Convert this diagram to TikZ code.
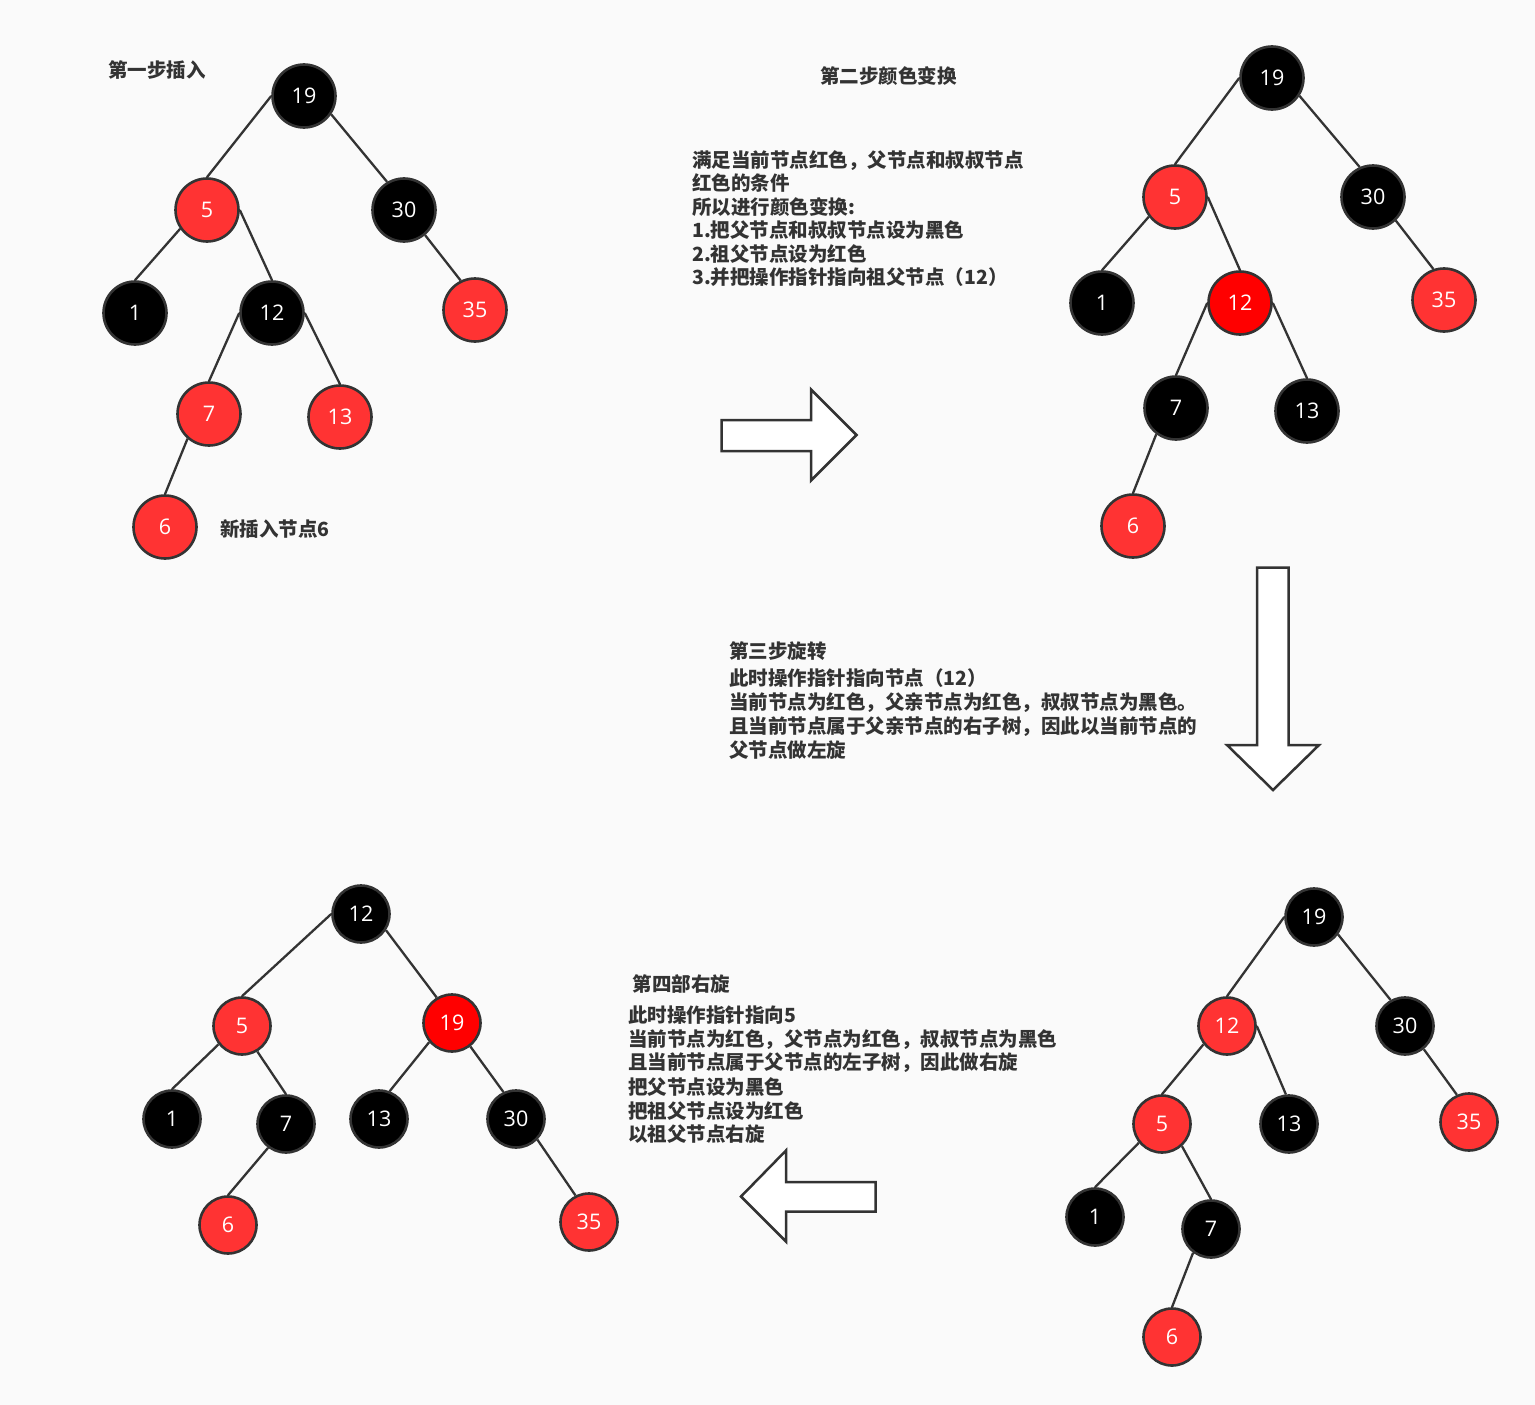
\documentclass[tikz,border=0pt]{standalone}
\usepackage{fontspec}
\setmainfont{Open Sans}
\newfontfamily\cjkf{Noto Sans CJK SC}
\newfontfamily\numf{Open Sans}
\definecolor{bgc}{RGB}{250,250,250}
\definecolor{strk}{RGB}{51,51,51}
\definecolor{txtc}{RGB}{51,51,51}
\definecolor{lred}{RGB}{255,51,51}
\definecolor{pred}{RGB}{255,0,0}
\tikzset{
  nd/.style={circle, draw=strk, line width=2.6pt, text=white, minimum size=63pt, inner sep=0pt, font=\numf\fontsize{21.5}{24}\selectfont},
  sm/.style={minimum size=57pt},
  nb/.style={nd, fill=black},
  nr/.style={nd, fill=lred},
  nrr/.style={nd, fill=pred},
  lnk/.style={draw=strk, line width=2.3pt},
  lbl/.style={anchor=base west, inner sep=0pt, text=txtc, font=\cjkf\bfseries\fontsize{19.5}{24}\selectfont},
  bigarrow/.style={draw=strk, fill=white, line width=2.5pt, line join=miter}
}
\begin{document}
\begin{tikzpicture}[x=1pt,y=-1pt]
\path[use as bounding box, fill=bgc] (0,0) rectangle (1535,1405);

% ---------- Tree 1 ----------
\node[nb]  (a19) at (304,96)  {19};
\node[nr]  (a5)  at (207,210) {5};
\node[nb]  (a30) at (404,210) {30};
\node[nb]  (a1)  at (135,313) {1};
\node[nb]  (a12) at (272,313) {12};
\node[nr]  (a35) at (475,310) {35};
\node[nr]  (a7)  at (209,414) {7};
\node[nr]  (a13) at (340,417) {13};
\node[nr]  (a6)  at (165,527) {6};
\draw[lnk] (a19.west) -- (a5.north);
\draw[lnk] (a19.-34) -- (a30.121);
\draw[lnk] (a5.215) -- (a1.north);
\draw[lnk] (a5.east) -- (a12.north);
\draw[lnk] (a30.-50) -- (a35.116);
\draw[lnk] (a12.west) -- (a7.north);
\draw[lnk] (a12.east) -- (a13.north);
\draw[lnk] (a7.229) -- (a6.north);

% ---------- Tree 2 ----------
\node[nb]  (b19) at (1272,78)  {19};
\node[nr]  (b5)  at (1175,197) {5};
\node[nb]  (b30) at (1373,197) {30};
\node[nb]  (b1)  at (1102,303) {1};
\node[nrr] (b12) at (1240,303) {12};
\node[nr]  (b35) at (1444,300) {35};
\node[nb]  (b7)  at (1176,408) {7};
\node[nb]  (b13) at (1307,411) {13};
\node[nr]  (b6)  at (1133,526) {6};
\draw[lnk] (b19.west) -- (b5.north);
\draw[lnk] (b19.-33) -- (b30.114);
\draw[lnk] (b5.217) -- (b1.north);
\draw[lnk] (b5.east) -- (b12.north);
\draw[lnk] (b30.-46) -- (b35.109);
\draw[lnk] (b12.west) -- (b7.north);
\draw[lnk] (b12.east) -- (b13.north);
\draw[lnk] (b7.233) -- (b6.north);

% ---------- Tree 3 (bottom right) ----------
\node[nb,sm]  (c19) at (1314,917)  {19};
\node[nr,sm]  (c12) at (1227,1026) {12};
\node[nb,sm]  (c30) at (1405,1026) {30};
\node[nr,sm]  (c5)  at (1162,1124) {5};
\node[nb,sm]  (c13) at (1289,1124) {13};
\node[nr,sm]  (c35) at (1469,1122) {35};
\node[nb,sm]  (c1)  at (1095,1217) {1};
\node[nb,sm]  (c7)  at (1211,1229) {7};
\node[nr,sm]  (c6)  at (1172,1337) {6};
\draw[lnk] (c19.west) -- (c12.north);
\draw[lnk] (c19.-36) -- (c30.119);
\draw[lnk] (c12.218) -- (c5.north);
\draw[lnk] (c12.east) -- (c13.96);
\draw[lnk] (c30.-51) -- (c35.114);
\draw[lnk] (c5.219) -- (c1.north);
\draw[lnk] (c5.-48) -- (c7.north);
\draw[lnk] (c7.233) -- (c6.north);

% ---------- Tree 4 (bottom left) ----------
\node[nb,sm]  (d12) at (361,914)  {12};
\node[nr,sm]  (d5)  at (242,1026) {5};
\node[nrr,sm] (d19) at (452,1023) {19};
\node[nb,sm]  (d1)  at (172,1119) {1};
\node[nb,sm]  (d7)  at (286,1124) {7};
\node[nb,sm]  (d13) at (379,1119) {13};
\node[nb,sm]  (d30) at (516,1119) {30};
\node[nr,sm]  (d6)  at (228,1225) {6};
\node[nr,sm]  (d35) at (589,1222) {35};
\draw[lnk] (d12.west) -- (d5.north);
\draw[lnk] (d12.-33) -- (d19.121);
\draw[lnk] (d5.218) -- (d1.north);
\draw[lnk] (d5.-59) -- (d7.north);
\draw[lnk] (d19.220) -- (d13.69);
\draw[lnk] (d19.-52) -- (d30.115);
\draw[lnk] (d7.233) -- (d6.north);
\draw[lnk] (d30.-44) -- (d35.117);

% ---------- Block arrows ----------
\draw[bigarrow] (721.5,420) -- (811,420) -- (811,389.5) -- (856.5,435) -- (811,480.5) -- (811,451) -- (721.5,451) -- cycle;
\draw[bigarrow] (1257,567.5) -- (1288.5,567.5) -- (1288.5,745) -- (1319,745) -- (1273,790) -- (1227,745) -- (1257,745) -- cycle;
\draw[bigarrow] (875.5,1182) -- (786,1182) -- (786,1150.5) -- (741,1196.5) -- (786,1241.5) -- (786,1211.5) -- (875.5,1211.5) -- cycle;

% ---------- Texts ----------
\node[lbl] (t1) at (108,77.4) {第一步插入};
\node[lbl] (t2) at (220,536.4) {新插入节点6};
\node[lbl] (t3) at (820,83.4) {第二步颜色变换};

\node[lbl] (s2a) at (692,167.4) {满足当前节点红色，父节点和叔叔节点};
\node[lbl] (s2b) at (692,190.9) {红色的条件};
\node[lbl] (s2c) at (692,214.4) {所以进行颜色变换:};
\node[lbl] (s2d) at (692,237.9) {1.把父节点和叔叔节点设为黑色};
\node[lbl] (s2e) at (692,261.4) {2.祖父节点设为红色};
\node[lbl] (s2f) at (692,284.9) {3.并把操作指针指向祖父节点（12）};

\node[lbl] (s3a) at (729,658.4) {第三步旋转};
\node[lbl] (s3b) at (729,685.4) {此时操作指针指向节点（12）};
\node[lbl] (s3c) at (729,709.4) {当前节点为红色，父亲节点为红色，叔叔节点为黑色。};
\node[lbl] (s3d) at (729,733.9) {且当前节点属于父亲节点的右子树，因此以当前节点的};
\node[lbl] (s3e) at (729,757.4) {父节点做左旋};

\node[lbl] (s4a) at (632.5,991.4) {第四部右旋};
\node[lbl] (s4b) at (628,1022) {此时操作指针指向5};
\node[lbl] (s4c) at (628,1046) {当前节点为红色，父节点为红色，叔叔节点为黑色};
\node[lbl] (s4d) at (628,1069.7) {且当前节点属于父节点的左子树，因此做右旋};
\node[lbl] (s4e) at (628,1094) {把父节点设为黑色};
\node[lbl] (s4f) at (628,1118) {把祖父节点设为红色};
\node[lbl] (s4g) at (628,1141.4) {以祖父节点右旋};
\end{tikzpicture}
\end{document}
